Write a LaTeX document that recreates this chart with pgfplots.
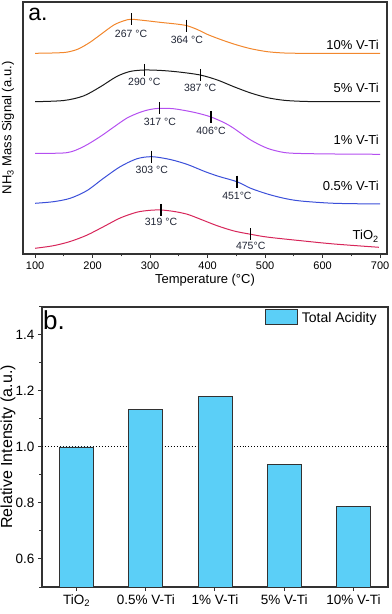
\documentclass[border=0pt]{standalone}
\usepackage{fontspec}
\setmainfont{Liberation Sans}
\usepackage{pgfplots}
\pgfplotsset{compat=1.18}
\definecolor{cOr}{RGB}{242,135,45}
\definecolor{cBk}{RGB}{26,26,26}
\definecolor{cPu}{RGB}{180,79,240}
\definecolor{cBl}{RGB}{59,79,217}
\definecolor{cRd}{RGB}{215,38,90}
\definecolor{cBar}{RGB}{91,207,247}
\definecolor{cAx}{RGB}{50,50,50}
\definecolor{cLab}{RGB}{32,37,53}
\newcommand\legfont{\fontsize{14bp}{16bp}\selectfont}
\begin{document}
\begin{tikzpicture}
% ---------------- panel a ----------------
\begin{axis}[
  at={(23bp,360bp)}, anchor=south west,
  width=364bp, height=252bp, scale only axis,
  xmin=79, xmax=712, ymin=1, ymax=253,
  axis line style={cAx, line width=1.2bp},
  xtick={100,200,...,700}, minor xtick={150,250,...,650},
  xtick pos=lower, ytick=\empty,
  tick style={cAx, line width=1bp},
  tick align=outside,
  major tick length=4bp, minor tick length=2.5bp,
  /pgf/number format/assume math mode=true,
  ticklabel style={font=\fontsize{11bp}{12bp}\selectfont},
  xlabel={Temperature (°C)},
  xlabel style={font=\fontsize{13bp}{15bp}\selectfont, at={(axis description cs:0.5,-0.103)}, anchor=center},
  ylabel={NH\textsubscript{3} Mass Signal (a.u.)},
  ylabel style={font=\fontsize{13bp}{15bp}\selectfont, at={(axis description cs:-0.041,0.5)}, anchor=center, rotate=0},
  clip=false,
]
% 10% V-Ti
\addplot[cOr, line width=1bp, smooth] coordinates {
(100,201.7) (130,202) (155,202.8) (175,206) (195,212.5) (213,220) (237,230) (255,234.3) (267,235.7) (290,234.5) (320,232.5) (345,231) (364,229.3) (382,225.5) (400,220.5) (425,215) (450,210.2) (475,206.3) (504,203.3) (533,202) (562,201.7) (620,201.7) (700,201.7)};
% 5% V-Ti
\addplot[cBk, line width=1bp, smooth] coordinates {
(100,153.3) (150,154.5) (184,159) (213,168) (242,178.5) (265,183.5) (290,185) (320,184.5) (350,183) (387,180) (417,175) (446,168.2) (475,162) (504,157.3) (533,154.7) (562,153.7) (600,153.3) (700,153.3)};
% 1% V-Ti
\addplot[cPu, line width=1bp, smooth] coordinates {
(100,101.7) (155,102.3) (184,108.3) (213,118.3) (237,128) (260,137) (283,142.8) (300,145.5) (317,146.7) (340,146.3) (365,144) (385,141.5) (406,138) (430,132) (446,126.5) (475,115) (504,106.7) (533,102.5) (562,101.5) (620,101) (700,100.7)};
% 0.5% V-Ti
\addplot[cBl, line width=1bp, smooth] coordinates {
(100,51.7) (132,53.3) (161,56.7) (190,64.3) (219,76.7) (248,88.3) (277,96.2) (303,98.3) (335,95.5) (365,90.5) (395,83.5) (420,78.5) (451,73.3) (475,66.7) (504,61) (533,56.7) (562,54) (620,51.7) (700,51)};
% TiO2
\addplot[cRd, line width=1bp, smooth] coordinates {
(100,6.7) (132,9.3) (161,13.5) (190,19.8) (219,28.3) (248,37) (277,42.8) (300,44.7) (319,45) (342,43.5) (365,40.7) (388,35.7) (417,29.2) (446,24) (475,20.7) (504,17.9) (562,14.3) (620,11) (698,7.7)};
% peak tick marks
\addplot[only marks, mark=|, mark size=6bp, mark options={black, line width=1.2bp}] coordinates {
(267,235.7) (364,229.3) (290,185) (387,180) (317,146.7) (406,138) (303,98.3) (451,73.3) (319,45) (475,20.7)};
% peak labels
\begin{scope}[every node/.style={font=\fontsize{10.5bp}{12bp}\selectfont, text=cLab, inner sep=0pt, anchor=center}]
\node[yshift=-15bp] at (axis cs:267,235.7) {267 °C};
\node[yshift=-14bp] at (axis cs:364,229.3) {364 °C};
\node[yshift=-12bp] at (axis cs:290,185) {290 °C};
\node[yshift=-12.5bp] at (axis cs:387,180) {387 °C};
\node[yshift=-14bp] at (axis cs:317,146.7) {317 °C};
\node[yshift=-14bp] at (axis cs:406,138) {406°C};
\node[yshift=-13.5bp] at (axis cs:303,98.3) {303 °C};
\node[yshift=-14bp] at (axis cs:451,73.3) {451°C};
\node[yshift=-12bp] at (axis cs:319,45) {319 °C};
\node[yshift=-11.5bp] at (axis cs:475,20.7) {475°C};
\end{scope}
% series labels
\begin{scope}[every node/.style={font=\fontsize{13bp}{15bp}\selectfont, text=black, inner sep=0pt, anchor=base east}]
\node at (axis cs:698,205.7) {10\% V-Ti};
\node at (axis cs:698,162.3) {5\% V-Ti};
\node at (axis cs:698,110) {1\% V-Ti};
\node at (axis cs:698,64) {0.5\% V-Ti};
\node at (axis cs:698,15) {TiO\textsubscript{2}};
\end{scope}
\node[font=\fontsize{23bp}{26bp}\selectfont, inner sep=0pt, anchor=base west] at (axis cs:88,234.3) {a.};
\end{axis}
% ---------------- panel b ----------------
\begin{axis}[
  at={(42bp,27bp)}, anchor=south west,
  width=346bp, height=280bp, scale only axis,
  xmin=-0.5, xmax=4.5, ymin=0.5, ymax=1.5,
  axis line style={cAx, line width=1.2bp},
  xtick={0,1,2,3,4},
  xticklabels={TiO\textsubscript{2}, 0.5\% V-Ti, 1\% V-Ti, 5\% V-Ti, 10\% V-Ti},
  xtick pos=lower, ytick pos=left,
  ytick={0.6,0.8,1.0,1.2,1.4}, minor ytick={0.5,0.7,0.9,1.1,1.3,1.5},
  tick style={cAx, line width=1bp},
  tick align=outside,
  major tick length=4bp, minor tick length=2.5bp,
  yticklabel style={/pgf/number format/.cd, fixed, fixed zerofill, precision=1},
  /pgf/number format/assume math mode=true,
  ticklabel style={font=\fontsize{13.5bp}{15bp}\selectfont},
  ylabel={Relative Intensity (a.u.)},
  ylabel style={font=\fontsize{16bp}{18bp}\selectfont, at={(axis description cs:-0.098,0.5)}, anchor=center},
  clip=false,
]
\addplot[black, dotted, line width=1bp, forget plot] coordinates {(-0.5,1) (4.5,1)};
\addplot[ybar, bar width=0.49, fill=cBar, draw=cAx, line width=0.9bp]
  coordinates {(0,1.0) (1,1.135) (2,1.181) (3,0.939) (4,0.787)};
% legend (swatch + text)
\draw[fill=cBar, draw=cAx, line width=0.9bp] (axis description cs:0.6445,0.992) rectangle (axis description cs:0.737,0.938);
\node[font=\legfont, inner sep=0pt, anchor=base west] at (axis description cs:0.7506,0.944) {Total Acidity};
\node[font=\fontsize{26bp}{28bp}\selectfont, inner sep=0pt, anchor=base west] at (axis cs:-0.486,1.418) {b.};
\end{axis}
\pgfresetboundingbox
\useasboundingbox (0,0) rectangle (392bp,614bp);
\end{tikzpicture}
\end{document}
